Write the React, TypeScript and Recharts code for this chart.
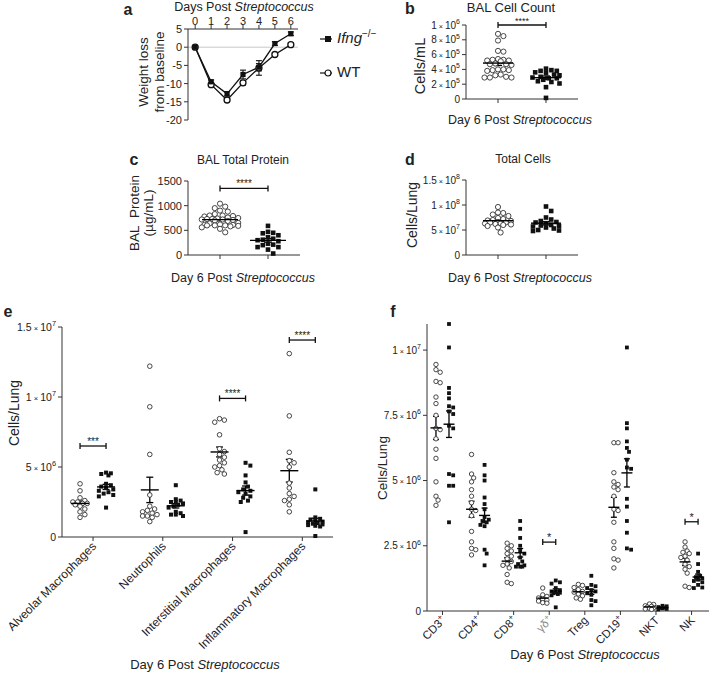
import React from 'react';
import { LineChart, Line, ScatterChart, Scatter, XAxis, YAxis, ErrorBar, ReferenceLine } from 'recharts';

const FONT = '"Liberation Sans", Arial, Helvetica, sans-serif';
const INK = '#222';

// ---------- Panel a : weight loss ----------
const aDays = [0, 1, 2, 3, 4, 5, 6];
const aIfng = [0, -9.5, -12.8, -7.5, -5.5, 1.0, 3.7];
const aIfngSem = [0, 0.5, 0.6, 1.2, 1.0, 0.5, 0.5];
const aWT = [0, -10.3, -14.5, -9.8, -5.7, -2.0, 0.7];
const aWTSem = [0, 0.4, 0.5, 0.6, 2.0, 0.4, 0.5];
const aYTicks = [5, 0, -5, -10, -15, -20];

// ---------- Panel b : BAL cell count ----------
const bWT = [8.8e5, 8.5e5, 7.9e5, 6.5e5, 6.4e5, 5.4e5, 5.3e5, 5.3e5, 5.2e5, 5.2e5, 5.1e5, 4.8e5, 4.7e5, 4.7e5, 4.6e5, 4.0e5, 4.0e5, 3.9e5, 3.9e5, 3.8e5, 3.3e5, 3.2e5, 3.0e5, 2.9e5, 2.9e5, 2.9e5];
const bKO = [4.1e5, 3.9e5, 3.8e5, 3.8e5, 3.6e5, 3.5e5, 3.3e5, 3.2e5, 3.0e5, 2.9e5, 2.8e5, 2.8e5, 2.6e5, 2.4e5, 2.3e5, 2.1e5, 1.6e5, 0.15e5];
const bTicks = [0, 2e5, 4e5, 6e5, 8e5, 1e6];

// ---------- Panel c : BAL total protein ----------
const cWT = [1040, 980, 950, 900, 880, 830, 800, 800, 790, 780, 760, 750, 740, 730, 730, 720, 720, 710, 700, 690, 650, 640, 620, 610, 610, 600, 600, 600, 590, 580, 560, 530, 460];
const cKO = [590, 470, 450, 440, 400, 360, 330, 310, 300, 280, 230, 210, 200, 160, 160, 110, 30];
const cTicks = [0, 500, 1000, 1500];

// ---------- Panel d : total cells ----------
const dWT = [9.6e7, 8.5e7, 8.4e7, 8.1e7, 7.8e7, 7.4e7, 7.2e7, 7.0e7, 6.9e7, 6.8e7, 6.6e7, 6.5e7, 6.5e7, 6.3e7, 6.3e7, 6.2e7, 6.1e7, 6.0e7, 5.8e7, 5.5e7, 4.5e7];
const dKO = [9.7e7, 8.8e7, 7.5e7, 7.1e7, 6.8e7, 6.6e7, 6.5e7, 6.3e7, 6.0e7, 5.9e7, 5.8e7, 5.7e7, 5.5e7, 5.3e7, 5.0e7, 4.9e7, 4.8e7];
const dTicks = [0, 5e7, 1e8, 1.5e8];

// ---------- Panel e : myeloid cells (x 1e6) ----------
const eCategories = ['Alveolar Macrophages', 'Neutrophils', 'Interstitial Macrophages', 'Inflammatory Macrophages'];
const eAlveolarWT = [3.8, 3.3, 2.8, 2.6, 2.5, 2.5, 2.4, 2.4, 2.3, 2.2, 2.0, 1.8, 1.6, 1.4];
const eAlveolarKO = [4.6, 4.55, 4.5, 4.4, 3.8, 3.7, 3.6, 3.5, 3.4, 3.3, 3.2, 3.1, 3.0, 2.9, 2.1];
const eNeutroWT = [12.2, 9.3, 5.9, 3.0, 2.2, 2.0, 1.9, 1.8, 1.7, 1.6, 1.5, 1.5, 1.4, 1.1];
const eNeutroKO = [3.7, 2.7, 2.6, 2.5, 2.5, 2.4, 2.3, 2.2, 2.1, 1.8, 1.7, 1.6, 1.6, 1.5];
const eInterWT = [8.45, 8.35, 8.2, 7.3, 6.3, 6.1, 5.9, 5.7, 5.5, 5.3, 5.1, 5.0, 4.8, 4.6, 4.5];
const eInterKO = [5.3, 5.1, 4.4, 3.9, 3.6, 3.4, 3.3, 3.2, 3.1, 2.9, 2.8, 2.6, 2.5, 0.35];
const eInflamWT = [13.1, 8.65, 6.05, 5.45, 5.3, 5.0, 3.85, 3.5, 3.1, 2.9, 2.7, 2.6, 2.3, 1.8];
const eInflamKO = [3.4, 1.4, 1.3, 1.25, 1.2, 1.1, 1.05, 1.0, 0.95, 0.9, 0.85, 0.8, 0.75, 0.07];
const eTicks = [0, 5e6, 1e7, 1.5e7];
const eSig = [{ group: 0, level: 6.5e6, label: '***' }, { group: 2, level: 9.9e6, label: '****' }, { group: 3, level: 14.07e6, label: '****' }];

// ---------- Panel f : lymphocytes (x 1e6) ----------
const fCategories = ['CD3+', 'CD4+', 'CD8+', 'γδ+', 'Treg', 'CD19+', 'NKT', 'NK'];
const fCD3WT = [9.45, 9.25, 9.15, 8.8, 8.75, 8.2, 7.95, 7.5, 7.0, 6.95, 6.6, 6.2, 5.85, 4.95, 4.4, 4.25, 4.05];
const fCD3KO = [11.0, 10.1, 8.55, 8.35, 8.15, 7.85, 7.8, 7.65, 7.55, 7.1, 7.0, 5.25, 5.2, 4.8, 4.8, 3.4];
const fCD4WT = [6.0, 5.25, 5.1, 4.95, 4.65, 4.4, 4.15, 3.9, 3.85, 3.65, 3.05, 2.65, 2.4, 2.35, 2.15];
const fCD4KO = [5.6, 5.2, 5.0, 4.35, 4.1, 3.9, 3.6, 3.5, 3.45, 3.4, 3.3, 3.25, 2.35, 2.2, 1.75];
const fCD8WT = [2.6, 2.5, 2.4, 2.3, 2.2, 2.1, 2.0, 1.9, 1.8, 1.75, 1.65, 1.4, 1.1, 1.05];
const fCD8KO = [3.45, 3.15, 2.8, 2.5, 2.3, 2.2, 2.05, 1.9, 1.8, 1.75, 1.7, 1.7, 1.7];
const fGdWT = [0.88, 0.62, 0.56, 0.5, 0.45, 0.42, 0.38, 0.32, 0.3];
const fGdKO = [1.17, 1.1, 1.05, 0.88, 0.8, 0.75, 0.72, 0.7, 0.68, 0.65, 0.6, 0.14];
const fTregWT = [1.02, 0.98, 0.9, 0.82, 0.75, 0.72, 0.65, 0.58, 0.5, 0.45];
const fTregKO = [1.35, 1.0, 0.95, 0.88, 0.8, 0.75, 0.68, 0.62, 0.42, 0.38, 0.22];
const fCD19WT = [6.45, 6.45, 5.3, 4.95, 4.85, 4.75, 4.65, 4.4, 3.9, 3.85, 3.4, 2.65, 2.4, 2.0, 1.95, 1.65];
const fCD19KO = [10.1, 7.2, 7.0, 6.5, 6.25, 6.1, 5.8, 5.5, 5.45, 4.3, 4.0, 3.45, 3.0, 2.4, 2.35];
const fNKTWT = [0.27, 0.25, 0.2, 0.18, 0.15, 0.12, 0.1, 0.08, 0.06];
const fNKTKO = [0.2, 0.18, 0.15, 0.13, 0.12, 0.1, 0.08, 0.06];
const fNKWT = [2.65, 2.45, 2.3, 2.25, 2.2, 2.1, 2.05, 1.95, 1.8, 1.7, 1.6, 1.45, 0.95, 0.9];
const fNKKO = [2.2, 1.8, 1.5, 1.35, 1.3, 1.25, 1.2, 1.15, 1.1, 1.0, 0.9, 0.88];
const fTicks = [0, 2.5e6, 5e6, 7.5e6, 1e7];
const fSig = [{ group: 3, level: 2.64e6, label: '*' }, { group: 7, level: 3.42e6, label: '*' }];

const M = 1e6;
const scale = (arr: number[]) => arr.map((v) => v * M);

// ---------- helpers ----------
const mean = (a: number[]) => a.reduce((s, v) => s + v, 0) / a.length;
const sem = (a: number[]) => {
  const m = mean(a);
  const sd = Math.sqrt(a.reduce((s, v) => s + (v - m) * (v - m), 0) / (a.length - 1));
  return sd / Math.sqrt(a.length);
};

// deterministic beeswarm layout (pixel offsets), limited to +-maxHalf
function swarm(vals: number[], pxY: number, d: number, maxHalf: number): number[] {
  const idx = vals.map((_, i) => i).sort((a, b) => vals[b] - vals[a]);
  const placed: [number, number][] = [];
  const res: number[] = new Array(vals.length).fill(0);
  const step = d * 0.5;
  for (const i of idx) {
    const py = vals[i] * pxY;
    let best = 0;
    let bestScore = -1;
    for (let k = 0; k < 200; k++) {
      const cand = k === 0 ? 0 : (k % 2 ? 1 : -1) * Math.ceil(k / 2) * step;
      if (Math.abs(cand) > maxHalf) break;
      let minD = Infinity;
      for (const [qx, qy] of placed) {
        const dx = qx - cand;
        const dy = qy - py;
        minD = Math.min(minD, Math.sqrt(dx * dx + dy * dy));
      }
      if (minD >= d) { best = cand; bestScore = Infinity; break; }
      if (minD > bestScore) { bestScore = minD; best = cand; }
    }
    res[i] = best;
    placed.push([best, py]);
  }
  return res;
}

function sciTick(fs: number) {
  return (p: any) => {
    const v = p.payload.value;
    let content: any;
    if (v === 0 || v < 1e4) content = <tspan>{v}</tspan>;
    else {
      const e = Math.floor(Math.log10(v) + 1e-9);
      const m = Math.round((v / Math.pow(10, e)) * 10) / 10;
      content = [
        <tspan key="m">{m}</tspan>,
        <tspan key="x" fontSize={fs * 0.72}> × </tspan>,
        <tspan key="t">10</tspan>,
        <tspan key="e" fontSize={fs * 0.7} dy={-fs * 0.45}>{e}</tspan>,
      ];
    }
    return (
      <text x={p.x} y={p.y} dy={fs * 0.35} textAnchor="end" fontSize={fs} fill={INK} fontFamily={FONT}>
        {content}
      </text>
    );
  };
}

const emptyTick = () => <g />;

function catTick(labels: string[], fs: number, dx: number, dy: number) {
  return (p: any) => {
    const i = Math.round(p.payload.value);
    const lab = labels[i] ?? '';
    const sup = lab.endsWith('+');
    const base = sup ? lab.slice(0, -1) : lab;
    const color = lab.startsWith('γ') ? '#8a8a8a' : INK;
    return (
      <g transform={`translate(${p.x + dx},${p.y + dy})`}>
        <text x={0} y={0} textAnchor="end" transform="rotate(-45)" fontSize={fs} fill={color} fontFamily={FONT}>
          <tspan>{base}</tspan>
          {sup ? <tspan fontSize={fs * 0.7} dy={-fs * 0.4}>+</tspan> : null}
        </text>
      </g>
    );
  };
}

function Txt(props: { x: number; y: number; size?: number; rotate?: boolean; bold?: boolean; lh?: number; children: any }) {
  const { x, y, size = 12, rotate = false, bold = false, lh = 1.15, children } = props;
  return (
    <div
      style={{
        position: 'absolute', left: x, top: y,
        transform: `translate(-50%,-50%)${rotate ? ' rotate(-90deg)' : ''}`,
        fontSize: size, fontFamily: FONT, whiteSpace: 'nowrap', lineHeight: lh,
        color: INK, fontWeight: bold ? 'bold' : 'normal', textAlign: 'center',
      }}
    >
      {children}
    </div>
  );
}

type DotProps = {
  left: number; top: number; width: number; height: number;
  mTop: number; mRight: number; yWidth: number; xHeight: number;
  xDomain: [number, number]; yDomain: [number, number];
  yTicks: number[]; xTicks: number[]; positions: number[];
  wt: number[][]; ko: number[][]; pairOffset: number;
  circleR: number; sq: number; swarmD: number; spread: number; meanHalf: number; cap: number;
  sig: { group: number; level: number; label: string }[];
  yTick: any; xTick: any; starSize: number;
};

function DotPanel(p: DotProps) {
  const plotW = p.width - p.mRight - p.yWidth;
  const plotH = p.height - p.mTop - p.xHeight;
  const pxX = plotW / (p.xDomain[1] - p.xDomain[0]);
  const pxY = plotH / (p.yDomain[1] - p.yDomain[0]);
  const wtPts: any[] = [];
  const koPts: any[] = [];
  const means: any[] = [];
  p.positions.forEach((c, i) => {
    const xw = c - p.pairOffset;
    const xk = c + p.pairOffset;
    const ow = swarm(p.wt[i], pxY, p.swarmD, p.spread);
    const ok = swarm(p.ko[i], pxY, p.swarmD, p.spread);
    p.wt[i].forEach((v, j) => wtPts.push({ x: xw + ow[j] / pxX, y: v }));
    p.ko[i].forEach((v, j) => koPts.push({ x: xk + ok[j] / pxX, y: v }));
    means.push({ x: xw, y: mean(p.wt[i]), sem: sem(p.wt[i]) });
    means.push({ x: xk, y: mean(p.ko[i]), sem: sem(p.ko[i]) });
  });
  const capDy = 3 / pxY;
  const labels = p.sig.map((s) => ({ x: p.positions[s.group], y: s.level, label: s.label }));
  return (
    <div style={{ position: 'absolute', left: p.left, top: p.top }}>
      <ScatterChart width={p.width} height={p.height} margin={{ top: p.mTop, right: p.mRight, bottom: 0, left: 0 }}>
        <XAxis type="number" dataKey="x" domain={p.xDomain} ticks={p.xTicks} interval={0}
          height={p.xHeight} stroke="#333" tickLine={{ stroke: '#333' }} tickSize={4} tick={p.xTick} />
        <YAxis type="number" dataKey="y" domain={p.yDomain} ticks={p.yTicks} interval={0}
          width={p.yWidth} stroke="#333" tickLine={{ stroke: '#333' }} tickSize={4} tick={p.yTick} />
        {p.sig.map((s, k) => {
          const x1 = p.positions[s.group] - p.pairOffset;
          const x2 = p.positions[s.group] + p.pairOffset;
          return [
            <ReferenceLine key={`h${k}`} ifOverflow="visible" stroke="#111" strokeWidth={1.3}
              segment={[{ x: x1, y: s.level }, { x: x2, y: s.level }]} />,
            <ReferenceLine key={`l${k}`} ifOverflow="visible" stroke="#111" strokeWidth={1.3}
              segment={[{ x: x1, y: s.level - capDy }, { x: x1, y: s.level + capDy }]} />,
            <ReferenceLine key={`r${k}`} ifOverflow="visible" stroke="#111" strokeWidth={1.3}
              segment={[{ x: x2, y: s.level - capDy }, { x: x2, y: s.level + capDy }]} />,
          ];
        })}
        <Scatter data={labels} isAnimationActive={false}
          shape={(q: any) => (
            <text x={q.cx} y={q.cy - 1} textAnchor="middle" fontSize={p.starSize} fill={INK} fontFamily={FONT}>
              {q.payload.label}
            </text>
          )} />
        <Scatter data={wtPts} isAnimationActive={false}
          shape={(q: any) => <circle cx={q.cx} cy={q.cy} r={p.circleR} fill="#fff" stroke="#333" strokeWidth={0.9} />} />
        <Scatter data={koPts} isAnimationActive={false}
          shape={(q: any) => <rect x={q.cx - p.sq / 2} y={q.cy - p.sq / 2} width={p.sq} height={p.sq} fill="#111" />} />
        <Scatter data={means} isAnimationActive={false}
          shape={(q: any) => <line x1={q.cx - p.meanHalf} x2={q.cx + p.meanHalf} y1={q.cy} y2={q.cy} stroke="#000" strokeWidth={1.4} />}>
          <ErrorBar dataKey="sem" direction="y" width={p.cap} stroke="#000" strokeWidth={1.3} isAnimationActive={false} />
        </Scatter>
      </ScatterChart>
    </div>
  );
}

const aData = aDays.map((d, i) => ({ day: d, ifng: aIfng[i], ifngSem: aIfngSem[i], wt: aWT[i], wtSem: aWTSem[i] }));

const eWT = [eAlveolarWT, eNeutroWT, eInterWT, eInflamWT].map(scale);
const eKO = [eAlveolarKO, eNeutroKO, eInterKO, eInflamKO].map(scale);
const fWT = [fCD3WT, fCD4WT, fCD8WT, fGdWT, fTregWT, fCD19WT, fNKTWT, fNKWT].map(scale);
const fKO = [fCD3KO, fCD4KO, fCD8KO, fGdKO, fTregKO, fCD19KO, fNKTKO, fNKKO].map(scale);

export default function App() {
  const plainTick = { fontSize: 11, fill: INK, fontFamily: FONT };
  return (
    <div style={{ position: 'absolute', left: 0, top: 0, width: 709, height: 673, background: '#fff', overflow: 'hidden', fontFamily: FONT }}>
      {/* panel letters */}
      <Txt x={128} y={10} size={16} bold>a</Txt>
      <Txt x={410} y={9} size={16} bold>b</Txt>
      <Txt x={134} y={160} size={16} bold>c</Txt>
      <Txt x={410} y={160} size={16} bold>d</Txt>
      <Txt x={8} y={312} size={16} bold>e</Txt>
      <Txt x={393} y={312} size={16} bold>f</Txt>

      {/* ---- a ---- */}
      <Txt x={244} y={6.5} size={12.5} lh={1}>Days Post <i>Streptococcus</i></Txt>
      <Txt x={152} y={72} size={13.5} rotate>Weight loss<br />from baseline</Txt>
      <div style={{ position: 'absolute', left: 156, top: 0 }}>
        <LineChart width={152} height={126} data={aData} margin={{ top: 13, right: 10, bottom: 6, left: 2 }}>
          <XAxis dataKey="day" type="number" orientation="top" domain={[-0.45, 6.45]} ticks={aDays} interval={0}
            height={16} stroke="#333" tickSize={4} tickMargin={0} tick={plainTick} />
          <YAxis type="number" domain={[-20, 5]} ticks={aYTicks} interval={0} width={30} stroke="#333" tickSize={4}
            tick={plainTick} />
          <ReferenceLine y={0} stroke="#c8c8c8" strokeWidth={1} />
          <Line dataKey="wt" stroke="#111" strokeWidth={1.3} isAnimationActive={false}
            dot={{ r: 3, fill: '#fff', stroke: '#111', strokeWidth: 1.3 }}>
            <ErrorBar dataKey="wtSem" width={3} stroke="#111" strokeWidth={1.1} />
          </Line>
          <Line dataKey="ifng" stroke="#111" strokeWidth={1.3} isAnimationActive={false}
            dot={(q: any) => <rect key={`sq${q.index}`} x={q.cx - 2.6} y={q.cy - 2.6} width={5.2} height={5.2} fill="#111" />}>
            <ErrorBar dataKey="ifngSem" width={3} stroke="#111" strokeWidth={1.1} />
          </Line>
        </LineChart>
      </div>
      <div style={{ position: 'absolute', left: 318, top: 28, fontSize: 15, fontFamily: FONT, color: INK, whiteSpace: 'nowrap' }}>
        <svg width={16} height={12} style={{ verticalAlign: 'middle' }}>
          <line x1={2} x2={14} y1={6} y2={6} stroke="#111" strokeWidth={1.2} />
          <rect x={7} y={3} width={6} height={6} fill="#111" />
        </svg>
        <span style={{ marginLeft: 3 }}><i>Ifng</i><sup style={{ fontSize: 10 }}>−/−</sup></span>
      </div>
      <div style={{ position: 'absolute', left: 318, top: 63, fontSize: 15, fontFamily: FONT, color: INK, whiteSpace: 'nowrap' }}>
        <svg width={16} height={12} style={{ verticalAlign: 'middle' }}>
          <line x1={2} x2={14} y1={6} y2={6} stroke="#111" strokeWidth={1.2} />
          <circle cx={10} cy={6} r={3} fill="#fff" stroke="#111" strokeWidth={1.2} />
        </svg>
        <span style={{ marginLeft: 3 }}>WT</span>
      </div>

      {/* ---- b ---- */}
      <Txt x={511} y={8} size={13}>BAL Cell Count</Txt>
      <Txt x={420} y={66} size={14.5} rotate>Cells/mL</Txt>
      <Txt x={520} y={120} size={12.5}>Day 6 Post <i>Streptococcus</i></Txt>
      <DotPanel left={406} top={13} width={177} height={94} mTop={12} mRight={5} yWidth={60} xHeight={8}
        xDomain={[-0.667, 1.667]} yDomain={[0, 1e6]} yTicks={bTicks} xTicks={[0, 1]} positions={[0.5]}
        wt={[bWT]} ko={[bKO]} pairOffset={0.5} circleR={2.6} sq={4.6} swarmD={5.4} spread={14} meanHalf={15} cap={4}
        sig={[{ group: 0, level: 1e6, label: '****' }]} yTick={sciTick(10)} xTick={emptyTick} starSize={9} />

      {/* ---- c ---- */}
      <Txt x={243} y={161} size={12}>BAL Total Protein</Txt>
      <Txt x={142} y={213} size={13.5} lh={1.05} rotate>BAL&nbsp; Protein<br />(µg/mL)</Txt>
      <Txt x={243} y={278} size={12.5}>Day 6 Post <i>Streptococcus</i></Txt>
      <DotPanel left={138} top={169} width={167} height={94} mTop={12} mRight={5} yWidth={50} xHeight={8}
        xDomain={[-0.667, 1.667]} yDomain={[0, 1500]} yTicks={cTicks} xTicks={[0, 1]} positions={[0.5]}
        wt={[cWT]} ko={[cKO]} pairOffset={0.5} circleR={2.6} sq={4.6} swarmD={5.2} spread={19} meanHalf={18} cap={4}
        sig={[{ group: 0, level: 1350, label: '****' }]} yTick={sciTick(11)} xTick={emptyTick} starSize={10} />

      {/* ---- d ---- */}
      <Txt x={523} y={160} size={12}>Total Cells</Txt>
      <Txt x={412} y={215} size={14} rotate>Cells/Lung</Txt>
      <Txt x={520} y={278} size={12.5}>Day 6 Post <i>Streptococcus</i></Txt>
      <DotPanel left={406} top={168} width={177} height={95} mTop={12} mRight={5} yWidth={60} xHeight={8}
        xDomain={[-0.667, 1.667]} yDomain={[0, 1.5e8]} yTicks={dTicks} xTicks={[0, 1]} positions={[0.5]}
        wt={[dWT]} ko={[dKO]} pairOffset={0.5} circleR={2.6} sq={4.6} swarmD={5.2} spread={15} meanHalf={15} cap={4}
        sig={[]} yTick={sciTick(10)} xTick={emptyTick} starSize={10} />

      {/* ---- e ---- */}
      <Txt x={14} y={413} size={14} rotate>Cells/Lung</Txt>
      <Txt x={205} y={665} size={13}>Day 6 Post <i>Streptococcus</i></Txt>
      <DotPanel left={2} top={317} width={336} height={346} mTop={10} mRight={5} yWidth={60} xHeight={126}
        xDomain={[-0.445, 3.44]} yDomain={[0, 1.5e7]} yTicks={eTicks} xTicks={[0, 1, 2, 3]} positions={[0, 1, 2, 3]}
        wt={eWT} ko={eKO} pairOffset={0.1865} circleR={2.3} sq={4} swarmD={4.8} spread={9} meanHalf={9} cap={3.5}
        sig={eSig} yTick={sciTick(10.5)} xTick={catTick(eCategories, 12, 4, 4)} starSize={10} />

      {/* ---- f ---- */}
      <Txt x={383} y={468} size={13.5} rotate>Cells/Lung</Txt>
      <Txt x={585} y={655} size={13}>Day 6 Post <i>Streptococcus</i></Txt>
      <DotPanel left={372} top={314} width={337} height={347} mTop={10} mRight={0} yWidth={55} xHeight={50}
        xDomain={[-0.435, 7.49]} yDomain={[0, 1.1e7]} yTicks={fTicks} xTicks={[0, 1, 2, 3, 4, 5, 6, 7]}
        positions={[0, 1, 2, 3, 4, 5, 6, 7]} wt={fWT} ko={fKO} pairOffset={0.183} circleR={2.2} sq={3.8}
        swarmD={4.2} spread={6} meanHalf={5.5} cap={3} sig={fSig} yTick={sciTick(10)}
        xTick={catTick(fCategories, 11.5, 4, 4)} starSize={11} />
    </div>
  );
}
